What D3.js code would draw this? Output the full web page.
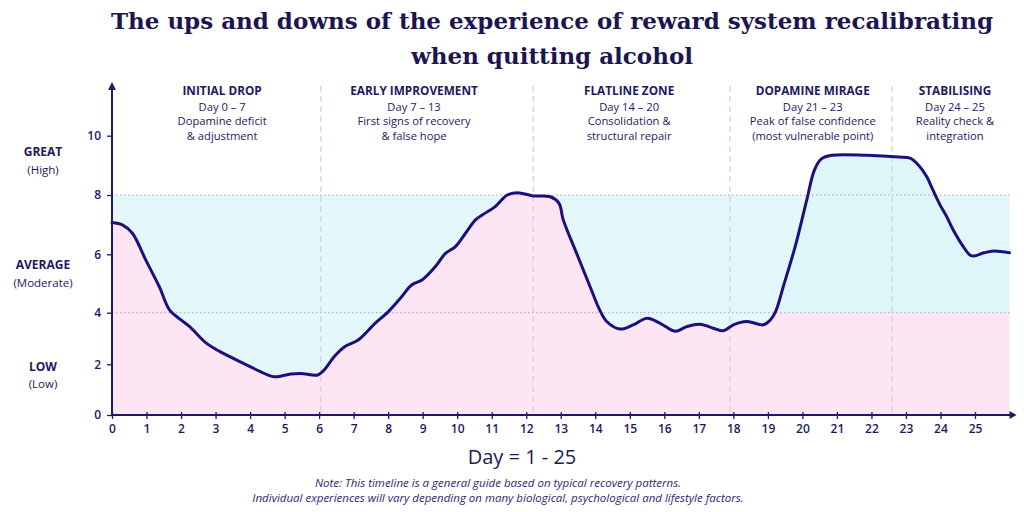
<!DOCTYPE html>
<html>
<head>
<meta charset="utf-8">
<script src="https://cdn.jsdelivr.net/npm/d3@7"></script>
<style>
  html, body { margin: 0; padding: 0; background: #ffffff; }
  svg { display: block; }
</style>
</head>
<body>
<svg id="chart" width="1024" height="512"></svg>
<script>
// ---------------- data ----------------
const titleLines = ["The ups and downs of the experience of reward system recalibrating", "when quitting alcohol"];
const days = [0, 0.3, 0.59, 0.98, 1.37, 1.67, 2.0, 2.25, 2.74, 3.13, 3.91, 4.3, 4.69, 5.18, 5.47, 5.96, 6.15, 6.44, 6.74, 7.13,
  7.62, 8.0, 8.39, 8.68, 8.98, 9.37, 9.66, 9.95, 10.24, 10.53, 10.8, 11.1, 11.45, 11.75, 12.2, 12.7, 12.95, 13.07, 13.46, 13.85,
  14.13, 14.33, 14.72, 15.1, 15.49, 15.88, 16.31, 16.65, 17.03, 17.42, 17.71, 18.0, 18.39, 18.87, 19.07, 19.22, 19.46, 19.8, 20.12,
  20.35, 20.55, 20.85, 21.86, 22.8, 23.12, 23.36, 23.6, 23.78, 23.99, 24.18, 24.37, 24.66, 24.85, 24.97, 25.26, 25.55, 26.0];
const values = [7.07, 6.99, 6.71, 5.80, 4.89, 4.09, 3.72, 3.46, 2.81, 2.49, 1.97, 1.71, 1.51, 1.62, 1.64, 1.58, 1.78, 2.30, 2.68, 2.94,
  3.59, 4.03, 4.55, 4.95, 5.12, 5.58, 6.03, 6.26, 6.71, 7.16, 7.38, 7.61, 8.0, 8.08, 7.97, 7.94, 7.72, 7.17, 6.03, 4.89,
  4.09, 3.66, 3.37, 3.53, 3.78, 3.59, 3.28, 3.46, 3.55, 3.40, 3.30, 3.53, 3.66, 3.53, 3.72, 4.03, 4.95, 6.3, 7.8,
  8.85, 9.22, 9.34, 9.34, 9.28, 9.24, 9.01, 8.62, 8.17, 7.66, 7.27, 6.82, 6.26, 5.98, 5.94, 6.05, 6.11, 6.05];
const xTicks = d3.range(0, 26);
const yTicks = [0, 2, 4, 6, 8, 10];
const gridValues = [4, 8];
const dividerDays = [6.05, 12.2, 17.9, 22.6];
const phaseNames = ["INITIAL DROP", "EARLY IMPROVEMENT", "FLATLINE ZONE", "DOPAMINE MIRAGE", "STABILISING"];
const phaseRanges = ["Day 0 – 7", "Day 7 – 13", "Day 14 – 20", "Day 21 – 23", "Day 24 – 25"];
const phaseLine1 = ["Dopamine deficit", "First signs of recovery", "Consolidation &", "Peak of false confidence", "Reality check &"];
const phaseLine2 = ["& adjustment", "& false hope", "structural repair", "(most vulnerable point)", "integration"];
const phaseCenters = [3.19, 8.75, 14.98, 20.3, 24.42];
const levelNames = ["GREAT", "AVERAGE", "LOW"];
const levelSubs = ["(High)", "(Moderate)", "(Low)"];
const levelValues = [9.15, 5.33, 1.56];
const lowThreshold = 4, highThreshold = 8;
const recoveryCrossDay = 19.2;
const xLabel = "Day = 1 - 25";
const noteLines = ["Note: This timeline is a general guide based on typical recovery patterns.",
  "Individual experiences will vary depending on many biological, psychological and lifestyle factors."];

// ---------------- layout ----------------
const navy = "#1d1a5e";
const lineCol = "#1f0f7c";
const pink = "#fde5f4";
const cyan = "#e4f8fb";
const cyanDark = "#dcf6f9";
const font = "'Open Sans', sans-serif";

const svg = d3.select("#chart");
const x = d3.scaleLinear().domain([0, 25]).range([112, 975]);
const y = d3.scaleLinear().domain([0, 2, 4, 6, 8, 10]).range([415, 364.3, 312.7, 254.3, 195, 135.7]);
const xMax = 26;
const data = days.map((d, i) => ({ day: d, v: values[i] }));
const curveType = d3.curveCatmullRom.alpha(0.5);

// clip paths
const defs = svg.append("defs");
defs.append("clipPath").attr("id", "leftClip").append("rect")
  .attr("x", x(0)).attr("y", 0).attr("width", x(recoveryCrossDay) - x(0)).attr("height", 512);
defs.append("clipPath").attr("id", "rightClip").append("rect")
  .attr("x", x(recoveryCrossDay)).attr("y", 0).attr("width", x(xMax) - x(recoveryCrossDay)).attr("height", 512);

// background cyan band 0..8
svg.append("rect").attr("x", x(0)).attr("y", y(highThreshold))
  .attr("width", x(xMax) - x(0)).attr("height", y(0) - y(highThreshold)).attr("fill", cyan);

const areaUnder = d3.area().x(d => x(d.day)).y0(y(0)).y1(d => y(d.v)).curve(curveType);
svg.append("path").datum(data).attr("d", areaUnder).attr("fill", cyanDark).attr("clip-path", "url(#rightClip)");
svg.append("path").datum(data).attr("d", areaUnder).attr("fill", pink).attr("clip-path", "url(#leftClip)");
svg.append("rect").attr("x", x(recoveryCrossDay)).attr("y", y(lowThreshold))
  .attr("width", x(xMax) - x(recoveryCrossDay)).attr("height", y(0) - y(lowThreshold)).attr("fill", pink);

// dotted grid lines
svg.selectAll("line.grid").data(gridValues).enter().append("line")
  .attr("x1", x(0)).attr("x2", x(xMax)).attr("y1", d => y(d)).attr("y2", d => y(d))
  .attr("stroke", "#a9a4c8").attr("stroke-width", 1).attr("stroke-dasharray", "1.5,2.5");

// dividers
svg.selectAll("line.div").data(dividerDays).enter().append("line")
  .attr("x1", d => x(d)).attr("x2", d => x(d)).attr("y1", 86).attr("y2", y(0))
  .attr("stroke", "#d8cbdc").attr("stroke-width", 1.2).attr("stroke-dasharray", "6,4");

// curve
const line = d3.line().x(d => x(d.day)).y(d => y(d.v)).curve(curveType);
svg.append("path").datum(data).attr("d", line).attr("fill", "none")
  .attr("stroke", lineCol).attr("stroke-width", 3).attr("stroke-linejoin", "round").attr("stroke-linecap", "round");

// axes
const gx = svg.append("g").attr("transform", `translate(0,${y(0)})`)
  .call(d3.axisBottom(x).tickValues(xTicks).tickSize(4).tickPadding(5).tickFormat(d3.format("d")));
gx.select(".domain").remove();
gx.selectAll(".tick line").attr("stroke", navy).attr("stroke-width", 1.3).attr("y1", -3);
gx.selectAll(".tick text").attr("fill", navy).attr("font-family", font).attr("font-size", 12).attr("font-weight", 600);

const gy = svg.append("g").attr("transform", `translate(${x(0)},0)`)
  .call(d3.axisLeft(y).tickValues(yTicks).tickSize(5).tickPadding(6).tickFormat(d3.format("d")));
gy.select(".domain").remove();
gy.selectAll(".tick line").attr("stroke", navy).attr("stroke-width", 1.3);
gy.selectAll(".tick text").attr("fill", navy).attr("font-family", font).attr("font-size", 12).attr("font-weight", 600);

// axis lines with arrows
svg.append("line").attr("x1", x(0) - 1).attr("x2", x(xMax) + 2).attr("y1", y(0)).attr("y2", y(0))
  .attr("stroke", navy).attr("stroke-width", 2);
svg.append("path").attr("d", `M${x(xMax) + 7},${y(0)} L${x(xMax)},${y(0) - 4} L${x(xMax)},${y(0) + 4} Z`).attr("fill", navy);
svg.append("line").attr("x1", x(0)).attr("x2", x(0)).attr("y1", y(0) + 1).attr("y2", 89)
  .attr("stroke", navy).attr("stroke-width", 2);
svg.append("path").attr("d", `M${x(0)},82 L${x(0) - 4},90 L${x(0) + 4},90 Z`).attr("fill", navy);

// title
svg.selectAll("text.title").data(titleLines).enter().append("text")
  .attr("x", 552).attr("y", (d, i) => 29 + i * 35)
  .attr("text-anchor", "middle").attr("font-family", "'DejaVu Serif', serif").attr("font-weight", "bold")
  .attr("font-size", 23).attr("fill", "#1b1550").text(d => d);

// phase labels
phaseNames.forEach((n, i) => {
  const cx = x(phaseCenters[i]);
  const g = svg.append("g").attr("font-family", font).attr("fill", navy).attr("text-anchor", "middle");
  g.append("text").attr("x", cx).attr("y", 95).attr("font-size", 11.8).attr("font-weight", 700).text(n);
  [phaseRanges[i], phaseLine1[i], phaseLine2[i]].forEach((t, j) => {
    g.append("text").attr("x", cx).attr("y", 110.5 + j * 14.8).attr("font-size", 11.2).text(t);
  });
});

// level labels
levelNames.forEach((n, i) => {
  const cy = y(levelValues[i]);
  svg.append("text").attr("x", 43).attr("y", cy - 4.5).attr("text-anchor", "middle").attr("font-family", font)
    .attr("font-size", 12).attr("font-weight", 700).attr("fill", navy).text(n);
  svg.append("text").attr("x", 43).attr("y", cy + 13).attr("text-anchor", "middle").attr("font-family", font)
    .attr("font-size", 11.5).attr("fill", navy).text(levelSubs[i]);
});

// x label
svg.append("text").attr("x", 522).attr("y", 464).attr("text-anchor", "middle").attr("font-family", font)
  .attr("font-size", 20).attr("font-weight", 500).attr("fill", "#1b1a55").text(xLabel);

// note
svg.selectAll("text.note").data(noteLines).enter().append("text")
  .attr("x", 498).attr("y", (d, i) => 487 + i * 14.5).attr("text-anchor", "middle")
  .attr("font-family", font).attr("font-style", "italic").attr("font-size", 11.5).attr("fill", "#2b2870").text(d => d);
</script>
</body>
</html>
